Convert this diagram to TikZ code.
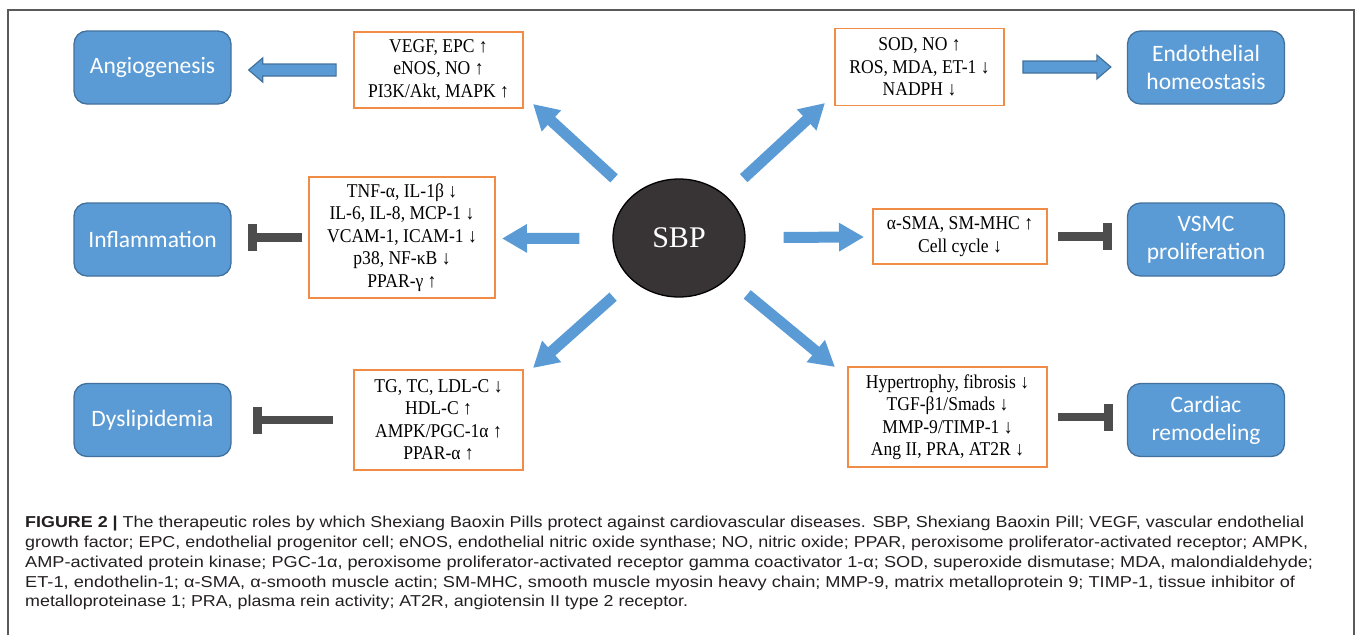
\documentclass[tikz,border=0pt]{standalone}
\usepackage{fontspec}
\usepackage{graphicx}
\setmainfont{Liberation Serif}
\newfontfamily\lblfont{Carlito}
\newfontfamily\capfont{Liberation Sans}
\newfontfamily\cellfont[FakeStretch=0.9]{Liberation Serif}
\usetikzlibrary{arrows.meta,calc,shapes.geometric}
\definecolor{bluefill}{HTML}{5B9BD5}
\definecolor{blueline}{HTML}{41719C}
\definecolor{orangeline}{HTML}{F08C45}
\definecolor{inhibgray}{HTML}{4D4D4D}
\definecolor{sbpfill}{HTML}{383435}
\definecolor{framegray}{HTML}{5A5A5A}
\definecolor{captext}{HTML}{231F20}
\newsavebox\capbox
% fit one caption line to a given width (in px = pt)
\newcommand\fitline[2]{%
  \sbox\capbox{\capfont\fontsize{15.8}{20}\selectfont #2}%
  \pgfmathsetmacro\linescale{#1/\the\wd\capbox}%
  \scalebox{\linescale}[1]{\usebox\capbox}}
\begin{document}
\begin{tikzpicture}[x=1pt,y=-1pt,
  outcome/.style={draw=blueline, line width=1.3pt, fill=bluefill, rounded corners=13pt,
    minimum width=157pt, minimum height=73pt, inner sep=0pt, text=white,
    font=\lblfont\fontsize{23.5}{28}\selectfont, align=center},
  cell/.style={draw=orangeline, line width=1.8pt, fill=white, inner sep=0pt,
    font=\cellfont\fontsize{19.5}{22.5}\selectfont, align=center},
  push/.style={line width=11pt, draw=bluefill, -{Triangle[width=27pt,length=25pt]}},
  inhib/.style={line width=8.5pt, draw=inhibgray, -{Rectangle[width=27pt,length=9pt]}},
  blockarrow/.style={draw=blueline, line width=1.2pt, fill=bluefill},
  capline/.style={anchor=base west, inner sep=0pt, text=captext}]
\useasboundingbox (0,0) rectangle (1358,635);
\draw[framegray, line width=1.3pt] (8,635) -- (8,10) -- (1354,10) -- (1354,635);

% outcome boxes
\node[outcome] (angio) at (152.5,67.5) {Angiogenesis};
\node[outcome] (infl) at (152.5,239.5) {Inflammation};
\node[outcome] (dys) at (152.5,420) {Dyslipidemia};
\node[outcome] (endo) at (1206,67.5) {Endothelial\\homeostasis};
\node[outcome] (vsmc) at (1206,239.5) {VSMC\\proliferation};
\node[outcome] (card) at (1206,420) {Cardiac\\remodeling};

% mediator boxes
\node[cell, minimum width=169pt, minimum height=76pt] (vegf) at (438.5,70)
  {VEGF, EPC ↑\\eNOS, NO ↑\\PI3K/Akt, MAPK ↑};
\node[cell, minimum width=169pt, minimum height=77pt] (sod) at (919.5,67)
  {SOD, NO ↑\\ROS, MDA, ET-1 ↓\\NADPH ↓};
\node[cell, minimum width=186pt, minimum height=121pt] (tnf) at (402,237.5)
  {TNF-α, IL-1β ↓\\IL-6, IL-8, MCP-1 ↓\\VCAM-1, ICAM-1 ↓\\p38, NF-κB ↓\\PPAR-γ ↑};
\node[cell, minimum width=174pt, minimum height=55pt] (sma) at (960,236.5)
  {α-SMA, SM-MHC ↑\\Cell cycle ↓};
\node[cell, minimum width=169pt, minimum height=100pt] (tg) at (438.5,420)
  {TG, TC, LDL-C ↓\\HDL-C ↑\\AMPK/PGC-1α ↑\\PPAR-α ↑};
\node[cell, minimum width=199pt, minimum height=100pt] (hyp) at (947.5,417)
  {Hypertrophy, fibrosis ↓\\TGF-β1/Smads ↓\\MMP-9/TIMP-1 ↓\\Ang II, PRA, AT2R ↓};

% centre
\node[ellipse, draw=black, line width=1.3pt, fill=sbpfill, minimum width=132pt, minimum height=118pt,
  inner sep=0pt, text=white, font=\fontsize{30}{36}\selectfont] (sbp) at (679,238) {SBP};

% arrow tips
\coordinate (tipUL) at (533,104);
\coordinate (tipUR) at (825,103);
\coordinate (tipL) at (502,238.5);
\coordinate (tipR) at (864,237);
\coordinate (tipLL) at (533,368);
\coordinate (tipLR) at (835,367);

\draw[push, shorten <=25pt] (sbp) -- (tipUL);
\draw[push, shorten <=25pt] (sbp) -- (tipUR);
\draw[push, shorten <=33pt] (sbp) -- (tipL);
\draw[push, shorten <=38pt] (sbp) -- (tipR);
\draw[push, shorten <=25pt] (sbp) -- (tipLL);
\draw[push, shorten <=25pt] (sbp) -- (tipLR);

% block arrows
\path[blockarrow] let \p1=($(vegf.west)+(-17,0)$), \p2=($(angio.east)+(17,0)$) in
  (\x1,\y1-6pt) -- (\x2+14pt,\y1-6pt) -- (\x2+14pt,\y1-12pt) -- (\x2,\y1)
  -- (\x2+14pt,\y1+12pt) -- (\x2+14pt,\y1+6pt) -- (\x1,\y1+6pt) -- cycle;
\path[blockarrow] let \p1=($(sod.east)+(18,0)$), \p2=($(endo.west)+(-16,0)$) in
  (\x1,\y1-6pt) -- (\x2-14pt,\y1-6pt) -- (\x2-14pt,\y1-12pt) -- (\x2,\y1)
  -- (\x2-14pt,\y1+12pt) -- (\x2-14pt,\y1+6pt) -- (\x1,\y1+6pt) -- cycle;

% inhibition
\draw[inhib, shorten <=6pt, shorten >=16pt] (tnf.west) -- (tnf.west -| infl.east);
\draw[inhib, shorten <=20pt, shorten >=21pt] (tg.west) -- (tg.west -| dys.east);
\draw[inhib, shorten <=10pt, shorten >=15pt] (sma.east) -- (sma.east -| vsmc.west);
\draw[inhib, shorten <=10pt, shorten >=14pt] (hyp.east) -- (hyp.east -| card.west);

% caption
\node[capline] (cap1) at (25,527) {\fitline{1279}{\textbf{FIGURE 2 |} The therapeutic roles by which Shexiang Baoxin Pills protect against cardiovascular diseases. SBP, Shexiang Baoxin Pill; VEGF, vascular endothelial}};
\node[capline] (cap2) at (25,547) {\fitline{1283}{growth factor; EPC, endothelial progenitor cell; eNOS, endothelial nitric oxide synthase; NO, nitric oxide; PPAR, peroxisome proliferator-activated receptor; AMPK,}};
\node[capline] (cap3) at (25,567) {\fitline{1288}{AMP-activated protein kinase; PGC-1α, peroxisome proliferator-activated receptor gamma coactivator 1-α; SOD, superoxide dismutase; MDA, malondialdehyde;}};
\node[capline] (cap4) at (25,587) {\fitline{1270}{ET-1, endothelin-1; α-SMA, α-smooth muscle actin; SM-MHC, smooth muscle myosin heavy chain; MMP-9, matrix metalloprotein 9; TIMP-1, tissue inhibitor of}};
\node[capline] (cap5) at (25,606.5) {\fitline{663}{metalloproteinase 1; PRA, plasma rein activity; AT2R, angiotensin II type 2 receptor.}};
\end{tikzpicture}
\end{document}
